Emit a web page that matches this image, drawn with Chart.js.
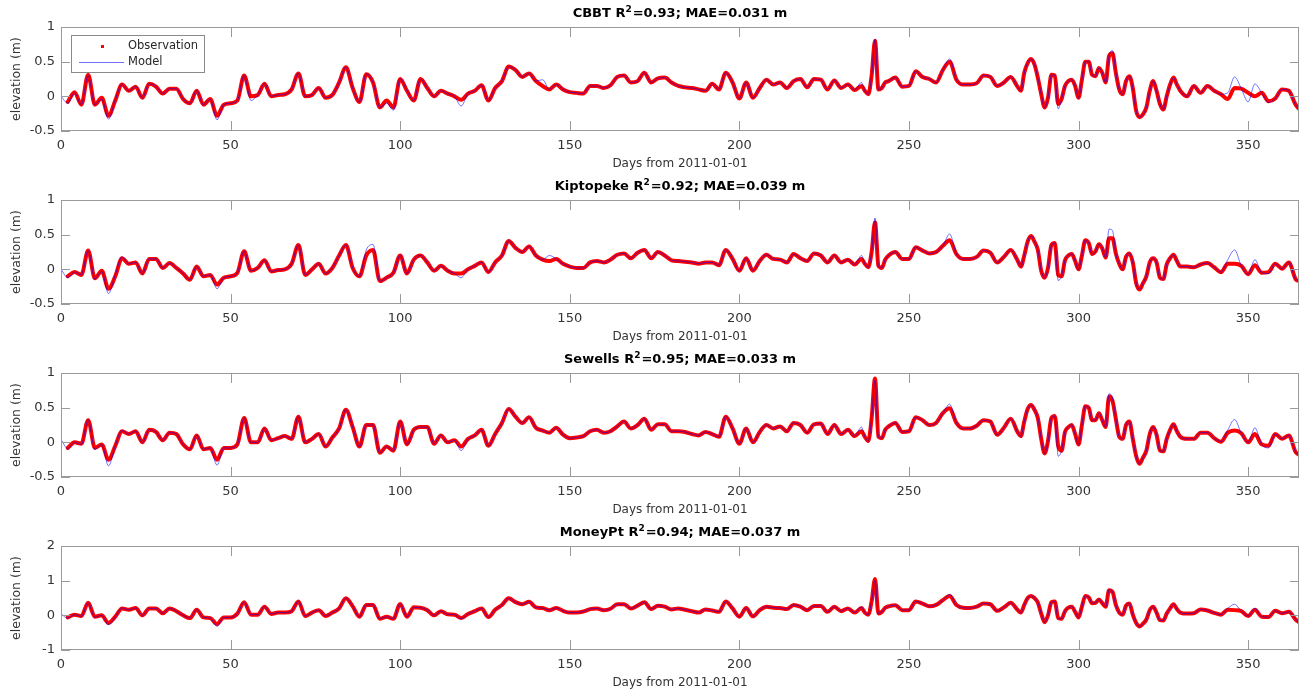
<!DOCTYPE html>
<html>
<head>
<meta charset="utf-8">
<script src="https://cdn.jsdelivr.net/npm/chart.js@4.4.1/dist/chart.umd.min.js"></script>
<style>
  html, body { margin: 0; padding: 0; background: #fff; }
  #wrap { position: relative; width: 1307px; height: 696px; }
  #wrap canvas { position: absolute; left: 0; }
</style>
</head>
<body>
<div id="wrap">
  <canvas id="panel0" width="1307" height="173" style="top:0px"></canvas>
  <canvas id="panel1" width="1307" height="173" style="top:173px"></canvas>
  <canvas id="panel2" width="1307" height="173" style="top:346px"></canvas>
  <canvas id="panel3" width="1307" height="173" style="top:519px"></canvas>
</div>
<script>
'use strict';

// sample days: every 2nd day, daily around the day-240 surge and the autumn storms
const days = [
  0,2,4,6,8,10,12,14,16,18,
  20,22,24,26,28,30,32,34,36,38,
  40,42,44,46,48,50,52,54,56,58,
  60,62,64,66,68,70,72,74,76,78,
  80,82,84,86,88,90,92,94,96,98,
  100,102,104,106,108,110,112,114,116,118,
  120,122,124,126,128,130,132,134,136,138,
  140,142,144,146,148,150,152,154,156,158,
  160,162,164,166,168,170,172,174,176,178,
  180,182,184,186,188,190,192,194,196,198,
  200,202,204,206,208,210,212,214,216,218,
  220,222,224,226,228,230,232,234,236,
  237,238,239,240,241,242,243,244,
  246,248,250,252,254,256,258,260,262,264,
  266,268,270,272,274,276,278,280,282,
  283,284,285,286,287,288,289,290,291,292,
  293,294,295,296,297,298,299,300,301,302,
  303,304,305,306,307,308,309,310,311,312,
  313,314,315,316,317,318,319,320,321,322,
  323,324,325,326,327,328,329,330,
  332,334,336,338,340,342,344,346,348,350,
  352,354,356,358,360,362,364,365
];

// elevation (m)
const cbbtObs = [
  null,-0.08,0.06,-0.12,0.31,-0.12,-0.02,-0.28,-0.06,0.17,
  0.08,0.14,-0.02,0.18,0.14,0.04,0.11,0.11,-0.04,-0.1,
  0.08,-0.12,-0.04,-0.28,-0.12,-0.1,-0.06,0.3,0.0,0.02,
  0.18,0.0,0.02,0.03,0.1,0.33,0.0,0.02,0.12,-0.02,
  0.02,0.2,0.42,0.12,-0.08,0.32,0.2,-0.16,-0.06,-0.16,
  0.25,0.08,-0.06,0.25,0.12,0.0,0.08,0.04,0.0,-0.05,
  0.04,0.08,0.16,-0.06,0.12,0.22,0.43,0.38,0.28,0.33,
  0.22,0.15,0.1,0.17,0.1,0.06,0.05,0.04,0.15,0.15,
  0.12,0.16,0.28,0.3,0.2,0.22,0.34,0.2,0.26,0.27,
  0.2,0.15,0.13,0.12,0.1,0.08,0.18,0.1,0.34,0.2,
  -0.03,0.2,-0.02,0.12,0.24,0.17,0.2,0.12,0.22,0.25,
  0.13,0.25,0.24,0.1,0.23,0.12,0.17,0.09,0.15,
  0.08,0.03,0.3,0.8,0.1,0.12,0.2,0.22,
  0.27,0.14,0.15,0.36,0.28,0.25,0.2,0.38,0.5,0.24,
  0.17,0.17,0.19,0.3,0.28,0.15,0.2,0.28,0.14,
  0.08,0.34,0.48,0.54,0.46,0.27,0.03,-0.16,-0.02,0.31,
  0.3,-0.11,-0.04,0.15,0.22,0.24,0.15,-0.02,0.24,0.5,
  0.5,0.31,0.29,0.41,0.34,0.2,0.58,0.62,0.34,0.1,
  0.03,0.22,0.29,0.12,-0.21,-0.3,-0.26,-0.16,0.08,0.22,
  0.08,-0.11,-0.19,0.0,0.17,0.27,0.17,0.08,
  0.0,0.15,0.05,0.15,0.08,0.03,-0.04,0.12,0.11,0.05,
  0.0,0.05,-0.07,-0.03,0.1,0.08,-0.12,-0.18
];
const cbbtModel = [
  0.0,-0.1,0.05,-0.12,0.3,-0.12,-0.04,-0.33,-0.05,0.17,
  0.08,0.14,-0.02,0.18,0.14,0.04,0.11,0.11,-0.04,-0.1,
  0.08,-0.12,-0.04,-0.34,-0.12,-0.1,-0.06,0.3,-0.06,0.02,
  0.18,0.0,0.02,0.03,0.1,0.33,0.0,0.02,0.12,-0.02,
  0.02,0.2,0.42,0.12,-0.08,0.32,0.2,-0.16,-0.1,-0.2,
  0.25,0.08,-0.06,0.25,0.12,0.0,0.08,0.04,0.0,-0.14,
  0.04,0.08,0.16,-0.06,0.12,0.22,0.43,0.38,0.28,0.33,
  0.22,0.24,0.1,0.17,0.1,0.06,0.05,0.04,0.15,0.15,
  0.12,0.16,0.28,0.3,0.2,0.22,0.34,0.2,0.26,0.27,
  0.2,0.15,0.13,0.12,0.1,0.08,0.18,0.1,0.34,0.2,
  -0.03,0.2,-0.02,0.12,0.24,0.17,0.2,0.12,0.22,0.25,
  0.13,0.25,0.24,0.1,0.23,0.12,0.17,0.09,0.2,
  0.08,0.03,0.3,0.82,0.1,0.12,0.2,0.22,
  0.27,0.14,0.15,0.36,0.28,0.25,0.2,0.38,0.54,0.24,
  0.17,0.17,0.19,0.3,0.28,0.15,0.2,0.28,0.14,
  0.08,0.34,0.48,0.54,0.46,0.27,0.03,-0.16,-0.02,0.31,
  0.3,-0.18,-0.04,0.15,0.22,0.24,0.15,-0.02,0.24,0.5,
  0.5,0.31,0.29,0.41,0.34,0.2,0.58,0.66,0.34,0.1,
  0.03,0.22,0.29,0.12,-0.21,-0.3,-0.26,-0.16,0.08,0.22,
  0.08,-0.11,-0.19,0.0,0.17,0.27,0.17,0.08,
  0.0,0.15,0.05,0.15,0.08,0.03,0.05,0.28,0.11,-0.08,
  0.18,0.05,-0.09,-0.03,0.1,0.08,-0.12,-0.18
];

const kipObs = [
  null,-0.1,-0.04,-0.08,0.27,-0.13,-0.02,-0.28,-0.1,0.16,
  0.08,0.1,-0.06,0.15,0.15,0.02,0.09,0.02,-0.06,-0.15,
  0.04,-0.1,-0.08,-0.22,-0.12,-0.1,-0.05,0.26,-0.02,0.02,
  0.13,-0.03,-0.01,0.0,0.08,0.35,-0.08,0.0,0.08,-0.06,
  0.02,0.2,0.35,0.02,-0.1,0.2,0.28,-0.17,-0.12,-0.05,
  0.2,-0.06,0.14,0.2,0.1,-0.02,0.05,-0.02,-0.06,-0.06,
  0.0,0.05,0.1,-0.04,0.1,0.2,0.41,0.31,0.25,0.33,
  0.2,0.14,0.12,0.15,0.08,0.04,0.02,0.02,0.1,0.12,
  0.1,0.14,0.21,0.23,0.16,0.24,0.28,0.16,0.25,0.2,
  0.13,0.12,0.11,0.1,0.08,0.1,0.1,0.06,0.28,0.15,
  -0.02,0.16,-0.02,0.12,0.21,0.15,0.14,0.1,0.22,0.16,
  0.12,0.23,0.2,0.1,0.2,0.1,0.14,0.07,0.15,
  0.08,0.03,0.25,0.68,0.05,0.02,0.14,0.2,
  0.25,0.15,0.15,0.32,0.27,0.23,0.25,0.34,0.42,0.22,
  0.15,0.15,0.18,0.27,0.24,0.1,0.18,0.28,0.13,
  0.04,0.2,0.4,0.48,0.4,0.28,-0.02,-0.12,0.02,0.35,
  0.38,-0.08,-0.1,0.13,0.2,0.22,0.12,0.0,0.2,0.42,
  0.38,0.22,0.26,0.36,0.3,0.17,0.45,0.45,0.23,0.08,
  0.0,0.18,0.23,0.1,-0.2,-0.29,-0.2,-0.1,0.1,0.16,
  0.1,-0.12,-0.14,0.07,0.16,0.21,0.12,0.04,
  0.04,0.03,0.07,0.09,0.03,-0.04,0.08,0.08,0.05,-0.07,
  0.06,-0.05,-0.04,0.08,0.01,0.1,-0.14,-0.17
];
const kipModel = [
  0.0,-0.12,-0.04,-0.08,0.27,-0.14,-0.03,-0.35,-0.08,0.18,
  0.08,0.1,-0.06,0.15,0.15,0.02,0.09,0.02,-0.06,-0.15,
  0.04,-0.1,-0.08,-0.28,-0.12,-0.1,-0.05,0.26,-0.02,0.02,
  0.13,-0.03,-0.01,0.0,0.08,0.35,-0.08,0.0,0.08,-0.06,
  0.02,0.2,0.35,0.02,-0.1,0.28,0.36,-0.17,-0.12,-0.05,
  0.2,-0.06,0.14,0.2,0.1,-0.02,0.05,-0.02,-0.06,-0.12,
  0.0,0.05,0.1,-0.04,0.1,0.2,0.41,0.31,0.25,0.33,
  0.2,0.14,0.2,0.15,0.08,0.04,0.02,0.02,0.1,0.12,
  0.1,0.14,0.21,0.23,0.16,0.24,0.28,0.16,0.25,0.2,
  0.13,0.12,0.11,0.1,0.08,0.1,0.1,0.06,0.28,0.15,
  -0.02,0.16,-0.02,0.12,0.21,0.15,0.14,0.1,0.22,0.16,
  0.12,0.23,0.2,0.1,0.2,0.1,0.14,0.07,0.2,
  0.08,0.03,0.25,0.74,0.05,0.02,0.14,0.2,
  0.25,0.15,0.15,0.32,0.27,0.23,0.25,0.34,0.51,0.22,
  0.15,0.15,0.18,0.27,0.24,0.1,0.18,0.28,0.13,
  0.04,0.2,0.4,0.48,0.4,0.28,-0.02,-0.12,0.02,0.35,
  0.38,-0.16,-0.1,0.13,0.2,0.22,0.12,0.0,0.2,0.42,
  0.38,0.22,0.26,0.36,0.3,0.17,0.58,0.56,0.23,0.08,
  0.0,0.18,0.23,0.1,-0.2,-0.29,-0.2,-0.1,0.1,0.16,
  0.1,-0.12,-0.14,0.07,0.16,0.21,0.12,0.04,
  0.04,0.03,0.07,0.09,0.03,-0.04,0.14,0.28,0.05,-0.07,
  0.14,-0.05,-0.06,0.08,0.01,0.1,-0.14,-0.17
];

const sewObs = [
  null,-0.08,0.0,-0.02,0.32,-0.08,-0.03,-0.25,-0.05,0.16,
  0.12,0.16,0.0,0.18,0.15,0.03,0.14,0.12,-0.03,-0.1,
  0.1,-0.1,-0.08,-0.25,-0.08,-0.08,-0.03,0.35,0.0,0.0,
  0.2,0.03,0.06,0.09,0.05,0.37,0.0,0.05,0.12,-0.06,
  0.07,0.2,0.47,0.22,-0.06,0.25,0.25,-0.15,-0.06,-0.12,
  0.3,-0.03,0.18,0.22,0.22,-0.02,0.1,0.0,0.03,-0.06,
  0.05,0.1,0.18,-0.05,0.12,0.28,0.48,0.37,0.28,0.36,
  0.21,0.17,0.14,0.21,0.11,0.06,0.07,0.09,0.16,0.18,
  0.14,0.16,0.23,0.3,0.2,0.25,0.34,0.18,0.26,0.26,
  0.16,0.16,0.15,0.12,0.1,0.15,0.12,0.08,0.37,0.2,
  -0.02,0.2,0.0,0.15,0.25,0.2,0.23,0.16,0.28,0.25,
  0.14,0.26,0.27,0.12,0.25,0.12,0.18,0.09,0.16,
  0.08,0.02,0.35,0.92,0.08,0.06,0.18,0.23,
  0.28,0.15,0.16,0.36,0.32,0.25,0.28,0.42,0.49,0.28,
  0.2,0.2,0.24,0.32,0.3,0.11,0.21,0.34,0.15,
  0.09,0.3,0.48,0.54,0.47,0.35,0.05,-0.16,0.02,0.35,
  0.38,-0.05,-0.12,0.15,0.22,0.25,0.12,-0.03,0.25,0.52,
  0.5,0.32,0.32,0.42,0.32,0.22,0.66,0.6,0.34,0.08,
  0.05,0.25,0.3,0.05,-0.2,-0.31,-0.22,-0.12,0.12,0.22,
  0.11,-0.12,-0.13,0.05,0.18,0.26,0.16,0.08,
  0.05,0.05,0.14,0.14,0.06,0.01,0.14,0.17,0.13,0.0,
  0.12,-0.03,-0.05,0.12,0.05,0.1,-0.14,-0.18
];
const sewModel = [
  0.04,-0.09,0.0,-0.03,0.32,-0.1,-0.03,-0.34,-0.05,0.17,
  0.12,0.16,0.0,0.18,0.15,0.03,0.14,0.12,-0.03,-0.1,
  0.1,-0.1,-0.08,-0.33,-0.08,-0.08,-0.03,0.35,0.0,0.0,
  0.2,0.03,0.06,0.09,0.05,0.37,0.0,0.05,0.12,-0.06,
  0.07,0.2,0.47,0.22,-0.06,0.25,0.25,-0.15,-0.06,-0.12,
  0.3,-0.03,0.18,0.22,0.22,-0.02,0.1,0.0,0.03,-0.12,
  0.05,0.1,0.18,-0.05,0.12,0.28,0.48,0.37,0.28,0.36,
  0.21,0.17,0.14,0.21,0.11,0.06,0.07,0.09,0.16,0.18,
  0.14,0.16,0.23,0.3,0.2,0.25,0.34,0.18,0.26,0.26,
  0.16,0.16,0.15,0.12,0.1,0.15,0.12,0.08,0.37,0.2,
  -0.02,0.2,0.0,0.15,0.25,0.2,0.23,0.16,0.28,0.25,
  0.14,0.26,0.27,0.12,0.25,0.12,0.18,0.09,0.22,
  0.08,0.02,0.35,0.9,0.08,0.06,0.18,0.23,
  0.28,0.15,0.16,0.36,0.32,0.25,0.28,0.42,0.55,0.28,
  0.2,0.2,0.24,0.32,0.3,0.11,0.21,0.34,0.15,
  0.09,0.3,0.48,0.54,0.47,0.35,0.05,-0.16,0.02,0.35,
  0.38,-0.2,-0.12,0.15,0.22,0.25,0.12,-0.03,0.25,0.52,
  0.5,0.32,0.32,0.42,0.32,0.22,0.7,0.64,0.34,0.08,
  0.05,0.25,0.3,0.05,-0.2,-0.31,-0.22,-0.12,0.12,0.22,
  0.11,-0.12,-0.13,0.05,0.18,0.26,0.16,0.08,
  0.05,0.05,0.14,0.14,0.06,0.01,0.18,0.33,0.13,0.0,
  0.21,-0.03,-0.08,0.12,0.05,0.1,-0.14,-0.18
];

const moneyObs = [
  null,-0.06,0.02,-0.02,0.36,-0.04,0.0,-0.22,-0.04,0.2,
  0.16,0.21,0.0,0.2,0.2,0.06,0.2,0.12,0.0,-0.08,
  0.16,-0.06,-0.08,-0.25,-0.06,-0.06,0.05,0.38,0.02,0.02,
  0.25,0.04,0.08,0.08,0.12,0.4,-0.02,0.08,0.15,-0.02,
  0.08,0.2,0.49,0.26,-0.04,0.3,0.3,-0.1,-0.04,-0.1,
  0.33,-0.04,0.23,0.22,0.15,0.0,0.12,0.03,0.02,-0.08,
  0.04,0.12,0.2,-0.05,0.16,0.3,0.49,0.38,0.32,0.39,
  0.23,0.21,0.15,0.21,0.13,0.08,0.08,0.11,0.18,0.2,
  0.15,0.19,0.32,0.32,0.2,0.28,0.38,0.18,0.28,0.25,
  0.17,0.2,0.16,0.12,0.08,0.17,0.14,0.1,0.4,0.2,
  -0.04,0.21,-0.03,0.15,0.25,0.22,0.21,0.18,0.3,0.25,
  0.15,0.27,0.27,0.1,0.25,0.12,0.2,0.08,0.21,
  0.08,0.02,0.4,1.05,0.05,0.1,0.22,0.26,
  0.29,0.15,0.15,0.4,0.34,0.26,0.3,0.44,0.56,0.3,
  0.22,0.21,0.25,0.34,0.32,0.13,0.23,0.36,0.16,
  0.08,0.3,0.5,0.56,0.5,0.37,0.05,-0.2,0.0,0.38,
  0.4,-0.08,-0.1,0.12,0.22,0.25,0.1,-0.06,0.25,0.56,
  0.52,0.35,0.36,0.46,0.35,0.25,0.72,0.68,0.3,0.08,
  0.02,0.28,0.34,0.02,-0.22,-0.32,-0.24,-0.12,0.15,0.25,
  0.08,-0.14,-0.15,0.05,0.2,0.32,0.18,0.08,
  0.05,0.06,0.17,0.14,0.07,0.02,0.16,0.15,0.12,-0.02,
  0.16,-0.04,-0.05,0.13,0.06,0.1,-0.12,-0.2
];
const moneyModel = [
  0.04,-0.08,0.02,-0.03,0.36,-0.05,0.0,-0.27,-0.04,0.21,
  0.16,0.21,0.0,0.2,0.2,0.06,0.2,0.12,0.0,-0.08,
  0.16,-0.06,-0.08,-0.32,-0.06,-0.06,0.05,0.38,0.02,0.02,
  0.25,0.04,0.08,0.08,0.12,0.4,-0.02,0.08,0.15,-0.02,
  0.08,0.2,0.49,0.26,-0.04,0.3,0.3,-0.1,-0.04,-0.1,
  0.33,-0.04,0.23,0.22,0.15,0.0,0.12,0.03,0.02,-0.1,
  0.04,0.12,0.2,-0.05,0.16,0.3,0.49,0.38,0.32,0.39,
  0.23,0.21,0.15,0.21,0.13,0.08,0.08,0.11,0.18,0.2,
  0.15,0.19,0.32,0.32,0.2,0.28,0.38,0.18,0.28,0.25,
  0.17,0.2,0.16,0.12,0.08,0.17,0.14,0.1,0.4,0.2,
  -0.04,0.21,-0.03,0.15,0.25,0.22,0.21,0.18,0.3,0.25,
  0.15,0.27,0.27,0.1,0.25,0.12,0.2,0.08,0.24,
  0.08,0.02,0.4,1.0,0.05,0.1,0.22,0.26,
  0.29,0.15,0.15,0.4,0.34,0.26,0.3,0.44,0.6,0.3,
  0.22,0.21,0.25,0.34,0.32,0.13,0.23,0.36,0.16,
  0.08,0.3,0.5,0.56,0.5,0.37,0.05,-0.2,0.0,0.38,
  0.4,-0.1,-0.1,0.12,0.22,0.25,0.1,-0.06,0.25,0.56,
  0.52,0.35,0.36,0.46,0.35,0.25,0.74,0.68,0.3,0.08,
  0.02,0.28,0.34,0.02,-0.22,-0.32,-0.24,-0.12,0.15,0.25,
  0.08,-0.14,-0.15,0.05,0.2,0.32,0.18,0.08,
  0.05,0.06,0.17,0.14,0.07,0.02,0.2,0.32,0.12,-0.02,
  0.2,-0.04,-0.05,0.13,0.06,0.1,-0.12,-0.2
];

const stations = [
  { name: 'CBBT',      r2: '0.93', mae: '0.031', obs: cbbtObs,  model: cbbtModel,  yMin: -0.5, yMax: 1, yStep: 0.5 },
  { name: 'Kiptopeke', r2: '0.92', mae: '0.039', obs: kipObs,   model: kipModel,   yMin: -0.5, yMax: 1, yStep: 0.5 },
  { name: 'Sewells',   r2: '0.95', mae: '0.033', obs: sewObs,   model: sewModel,   yMin: -0.5, yMax: 1, yStep: 0.5 },
  { name: 'MoneyPt',   r2: '0.94', mae: '0.037', obs: moneyObs, model: moneyModel, yMin: -1,   yMax: 2, yStep: 1 }
];

const FONT = '"DejaVu Sans", "Liberation Sans", sans-serif';
const TEXT = '#333333';
const AXIS = '#9a9a9a';
const OBS_COLOR = '#ff0000';
const MODEL_COLOR = 'rgba(0, 0, 255, 0.55)';

stations.forEach(s => {
  if (s.obs.length !== days.length || s.model.length !== days.length)
    console.warn(s.name, s.obs.length, s.model.length, days.length);
});

// matlab-ish box, inward ticks, bold title, and the legend on the first panel
const matlabAxes = {
  id: 'matlabAxes',
  afterDraw(chart, args, opts) {
    const { ctx, chartArea: a, scales: { x, y } } = chart;
    ctx.save();
    ctx.strokeStyle = AXIS;
    ctx.lineWidth = 1;
    ctx.strokeRect(Math.round(a.left) + 0.5, Math.round(a.top) + 0.5,
                   Math.round(a.right - a.left) - 1, Math.round(a.bottom - a.top) - 1);
    ctx.beginPath();
    x.ticks.forEach(t => {
      const px = Math.round(x.getPixelForValue(t.value)) + 0.5;
      ctx.moveTo(px, a.bottom); ctx.lineTo(px, a.bottom - 10);
      ctx.moveTo(px, a.top);    ctx.lineTo(px, a.top + 10);
    });
    y.ticks.forEach(t => {
      const py = Math.round(y.getPixelForValue(t.value)) + 0.5;
      ctx.moveTo(a.left, py);  ctx.lineTo(a.left + 9, py);
      ctx.moveTo(a.right, py); ctx.lineTo(a.right - 9, py);
    });
    ctx.stroke();

    // title with superscript 2
    const st = opts.station;
    const pre = st.name + ' R';
    const post = '=' + st.r2 + '; MAE=' + st.mae + ' m';
    const big = 'bold 13px ' + FONT, small = 'bold 9px ' + FONT;
    ctx.font = big;
    const w1 = ctx.measureText(pre).width, w3 = ctx.measureText(post).width;
    ctx.font = small;
    const w2 = ctx.measureText('2').width + 1;
    let tx = (a.left + a.right) / 2 - (w1 + w2 + w3) / 2;
    const ty = 14;
    ctx.fillStyle = '#000';
    ctx.textBaseline = 'middle';
    ctx.textAlign = 'left';
    ctx.font = big;  ctx.fillText(pre, tx, ty);  tx += w1;
    ctx.font = small; ctx.fillText('2', tx, ty - 4); tx += w2;
    ctx.font = big;  ctx.fillText(post, tx, ty);

    if (opts.legend) {
      const lx = a.left + 10, ly = a.top + 8;
      ctx.fillStyle = '#fff';
      ctx.fillRect(lx, ly, 133, 37);
      ctx.strokeStyle = '#8a8a8a';
      ctx.strokeRect(lx + 0.5, ly + 0.5, 133, 37);
      ctx.fillStyle = OBS_COLOR;
      ctx.fillRect(lx + 30, ly + 10, 3, 3);
      ctx.strokeStyle = MODEL_COLOR;
      ctx.beginPath();
      ctx.moveTo(lx + 8, ly + 27.5); ctx.lineTo(lx + 53, ly + 27.5);
      ctx.stroke();
      ctx.fillStyle = '#262626';
      ctx.font = '11.5px ' + FONT;
      ctx.fillText('Observation', lx + 57, ly + 11);
      ctx.fillText('Model', lx + 57, ly + 27);
    }
    ctx.restore();
  }
};

function makeChart(st, i) {
  const toPts = arr => days.map((d, k) => ({ x: d, y: arr[k] }));
  return new Chart(document.getElementById('panel' + i), {
    type: 'line',
    data: {
      datasets: [
        {
          label: 'Model', data: toPts(st.model), order: 0,
          borderColor: MODEL_COLOR, borderWidth: 1, pointRadius: 0,
          cubicInterpolationMode: 'monotone'
        },
        {
          label: 'Observation', data: toPts(st.obs), order: 1,
          borderColor: OBS_COLOR, borderWidth: 4, pointRadius: 0,
          borderJoinStyle: 'round', borderCapStyle: 'round',
          cubicInterpolationMode: 'monotone'
        }
      ]
    },
    options: {
      responsive: false,
      animation: false,
      layout: { padding: { left: 0, right: 8, top: 27, bottom: 0 } },
      plugins: {
        legend: { display: false },
        tooltip: { enabled: false },
        matlabAxes: { station: st, legend: i === 0 }
      },
      scales: {
        x: {
          type: 'linear', min: 0, max: 365,
          grid: { display: false, drawTicks: false },
          border: { display: false },
          ticks: {
            stepSize: 50, includeBounds: false, maxRotation: 0, padding: 7,
            color: TEXT, font: { family: FONT, size: 13 }
          },
          title: {
            display: true, text: 'Days from 2011-01-01', color: TEXT,
            font: { family: FONT, size: 12 }, padding: { top: 0, bottom: 2 }
          },
          afterFit: s => { s.height = 42; }
        },
        y: {
          min: st.yMin, max: st.yMax,
          grid: { display: false, drawTicks: false },
          border: { display: false },
          ticks: {
            stepSize: st.yStep, padding: 6,
            color: TEXT, font: { family: FONT, size: 13 },
            callback: v => String(v)
          },
          title: {
            display: true, text: 'elevation (m)', color: TEXT,
            font: { family: FONT, size: 12.5 }, padding: { top: 9, bottom: 0 }
          },
          afterFit: s => { s.width = 61; }
        }
      }
    },
    plugins: [matlabAxes]
  });
}

stations.forEach(makeChart);
</script>
</body>
</html>
